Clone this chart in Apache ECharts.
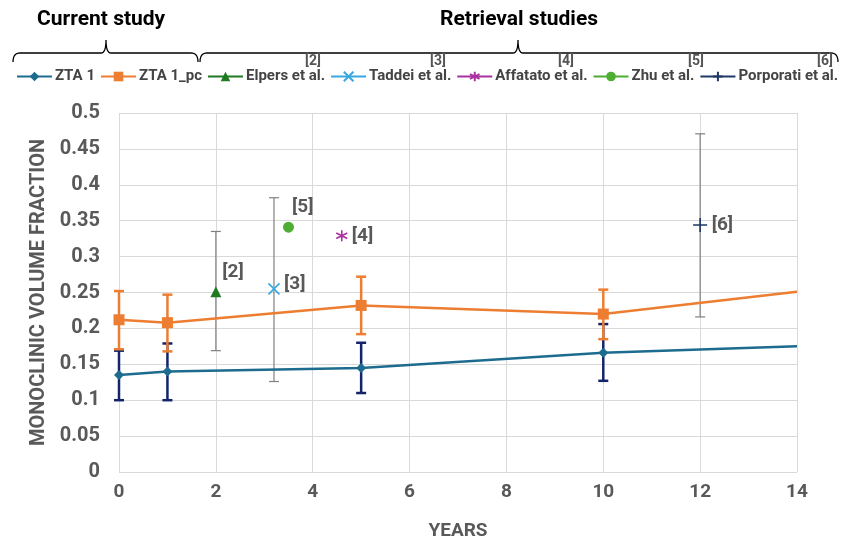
<!DOCTYPE html>
<html><head><meta charset="utf-8">
<script src="https://cdn.jsdelivr.net/npm/echarts@6/dist/echarts.min.js"></script>
<style>html,body{margin:0;padding:0;background:#fff}#c{width:844px;height:539px}</style>
</head><body><div id="c"></div>
<script>
// ---- data ----
const xTicks = [0, 2, 4, 6, 8, 10, 12, 14];
const zta1X = [0, 1, 5, 10, 14];
const zta1Y = [0.135, 0.14, 0.145, 0.166, 0.175];
const zta1Low = [0.10, 0.10, 0.11, 0.127];
const zta1High = [0.169, 0.179, 0.18, 0.206];
const ztaPcX = [0, 1, 5, 10, 14];
const ztaPcY = [0.212, 0.208, 0.232, 0.22, 0.251];
const ztaPcLow = [0.171, 0.168, 0.192, 0.185];
const ztaPcHigh = [0.252, 0.247, 0.272, 0.254];
const studyNames = ['Elpers et al.', 'Taddei et al.', 'Affatato et al.', 'Zhu et al.', 'Porporati et al.'];
const studyRefs = ['[2]', '[3]', '[4]', '[5]', '[6]'];
const studyX = [2, 3.2, 4.6, 3.5, 12];
const studyY = [0.251, 0.255, 0.329, 0.341, 0.344];
const studyLow = [0.169, 0.126, null, null, 0.216];
const studyHigh = [0.335, 0.382, null, null, 0.471];

// ---- styles ----
const FONT = 'Roboto, "Liberation Sans", sans-serif';
const GRAYTXT = '#595959';
const studyColors = ['#1e7b22', '#38a8e0', '#a8339f', '#4dae33', '#1f3864'];
const starPath = 'path://M5,0L5,10M0.7,2.5L9.3,7.5M0.7,7.5L9.3,2.5';
const crossPath = 'path://M0,0L10,10M0,10L10,0';
const plusPath = 'path://M0,5L10,5M5,0L5,10';
const studySymbols = ['triangle', crossPath, starPath, 'circle', plusPath];
const studySizes = [11, 11, 11, 11, 14];
const labelPos = [[-5, -20], [-4, -5], [-4, 0], [-8, -20], [-4, 0]];

function errSeries(xs, lows, highs, color, width, capW, z) {
  const d = [];
  for (let i = 0; i < lows.length; i++) if (lows[i] != null) d.push([xs[i], lows[i], highs[i]]);
  return {
    type: 'custom', silent: true, z: z,
    data: d,
    renderItem: function (params, api) {
      const lo = api.coord([api.value(0), api.value(1)]);
      const hi = api.coord([api.value(0), api.value(2)]);
      const st = { stroke: color, lineWidth: width, fill: null };
      return { type: 'group', children: [
        { type: 'line', shape: { x1: lo[0], y1: lo[1], x2: hi[0], y2: hi[1] }, style: st },
        { type: 'line', shape: { x1: lo[0] - capW, y1: lo[1], x2: lo[0] + capW, y2: lo[1] }, style: st },
        { type: 'line', shape: { x1: hi[0] - capW, y1: hi[1], x2: hi[0] + capW, y2: hi[1] }, style: st }
      ]};
    }
  };
}

const series = [];
series.push({
  name: 'ZTA 1', type: 'line', z: 4,
  data: zta1X.map((x, i) => i === zta1X.length - 1 ? { value: [x, zta1Y[i]], symbol: 'none' } : [x, zta1Y[i]]),
  symbol: 'diamond', symbolSize: 10, showAllSymbol: true,
  lineStyle: { color: '#1d6c8f', width: 2.5 }, itemStyle: { color: '#1d6c8f' }
});
series.push({
  name: 'ZTA 1_pc', type: 'line', z: 4,
  data: ztaPcX.map((x, i) => i === ztaPcX.length - 1 ? { value: [x, ztaPcY[i]], symbol: 'none' } : [x, ztaPcY[i]]),
  symbol: 'rect', symbolSize: 11,
  lineStyle: { color: '#ed7d31', width: 2.5 }, itemStyle: { color: '#ed7d31' }
});
series.push(errSeries(zta1X, zta1Low, zta1High, '#13246b', 2.5, 5, 3));
series.push(errSeries(ztaPcX, ztaPcLow, ztaPcHigh, '#ed7d31', 2.5, 5, 3));
series.push(errSeries(studyX, studyLow, studyHigh, '#808080', 1.2, 5, 2));
for (let i = 0; i < studyNames.length; i++) {
  const isPath = i === 1 || i === 2 || i === 4;
  series.push({
    name: studyNames[i], type: 'line', z: 5,
    data: [[studyX[i], studyY[i]]],
    symbol: studySymbols[i], symbolSize: studySizes[i],
    lineStyle: { color: studyColors[i], width: 2.5 },
    itemStyle: isPath ? { color: 'none', borderColor: studyColors[i], borderWidth: 1.6 } : { color: studyColors[i] },
    label: { show: true, position: 'right', distance: 6, offset: labelPos[i], formatter: studyRefs[i],
      fontFamily: FONT, fontWeight: 'bold', fontSize: 19, color: GRAYTXT }
  });
}

const chart = echarts.init(document.getElementById('c'));
const legendNames = ['ZTA 1', 'ZTA 1_pc'].concat(studyNames);

// brace as polyline points
function qb(p0, p1, p2, n, out) {
  for (let k = 1; k <= n; k++) {
    const t = k / n, a = (1 - t) * (1 - t), b = 2 * (1 - t) * t, c = t * t;
    out.push([a * p0[0] + b * p1[0] + c * p2[0], a * p0[1] + b * p1[1] + c * p2[1]]);
  }
}
function brace(x1, x2, xm, yb, yt) {
  const pts = [[x1, yb + 9]];
  qb([x1, yb + 9], [x1, yb], [x1 + 7, yb], 8, pts);
  pts.push([xm - 5, yb]);
  qb([xm - 5, yb], [xm, yb], [xm, yt], 8, pts);
  qb([xm, yt], [xm, yb], [xm + 5, yb], 8, pts);
  pts.push([x2 - 7, yb]);
  qb([x2 - 7, yb], [x2, yb], [x2, yb + 9], 8, pts);
  return pts;
}

chart.setOption({
  animation: false,
  backgroundColor: '#fff',
  grid: { left: 119, right: 47, top: 113, bottom: 67, outerBoundsMode: 'none', containLabel: false },
  legend: {
    data: legendNames, left: 11, top: 64, width: 844, itemGap: 5, itemWidth: 35, itemHeight: 12,
    textStyle: { fontFamily: FONT, fontSize: 15, fontWeight: 'bold', color: '#444', padding: [0, 0, 0, -2] }
  },
  xAxis: {
    type: 'value', min: 0, max: 14, interval: 2,
    name: 'YEARS', nameLocation: 'middle', nameGap: 50,
    nameTextStyle: { fontFamily: FONT, fontWeight: 'bold', fontSize: 19, color: GRAYTXT },
    axisLine: { show: false }, axisTick: { show: false },
    axisLabel: { fontFamily: FONT, fontWeight: 'bold', fontSize: 19, color: GRAYTXT, margin: 11 },
    splitLine: { show: true, lineStyle: { color: '#d9d9d9', width: 1 } }
  },
  yAxis: {
    type: 'value', min: 0, max: 0.5, interval: 0.05,
    name: 'MONOCLINIC VOLUME FRACTION', nameLocation: 'middle', nameGap: 68,
    nameTextStyle: { fontFamily: FONT, fontWeight: 'bold', fontSize: 20, color: GRAYTXT },
    axisLine: { show: false }, axisTick: { show: false },
    axisLabel: { fontFamily: FONT, fontWeight: 'bold', fontSize: 20, color: GRAYTXT, margin: 19,
      formatter: v => String(+v.toFixed(2)) },
    splitLine: { show: true, lineStyle: { color: '#d9d9d9', width: 1 } }
  },
  graphic: [
    { type: 'text', left: 37, top: 9, style: { text: 'Current study', fontFamily: FONT, fontWeight: 'bold', fontSize: 21, fill: '#000' } },
    { type: 'text', left: 440, top: 9, style: { text: 'Retrieval studies', fontFamily: FONT, fontWeight: 'bold', fontSize: 21, fill: '#000' } },
    { type: 'polyline', shape: { points: brace(13, 198, 106, 53, 40) }, style: { stroke: '#000', lineWidth: 1.3, fill: null } },
    { type: 'polyline', shape: { points: brace(200, 838, 518, 53, 40) }, style: { stroke: '#000', lineWidth: 1.3, fill: null } }
  ].concat(studyRefs.map((r, i) => ({
    type: 'text', left: [305, 430, 558, 688, 817][i], top: 54,
    style: { text: r, fontFamily: FONT, fontSize: 14, fontWeight: 'bold', fill: '#555' }
  }))),
  series: series
});
</script></body></html>
